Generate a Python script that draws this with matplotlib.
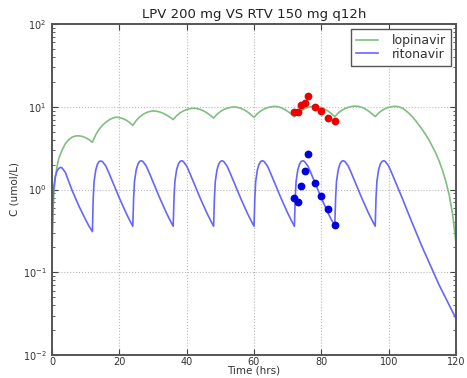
import matplotlib
matplotlib.use('Agg')
import matplotlib.pyplot as plt

# ---------------- data ----------------
title = "LPV 200 mg VS RTV 150 mg q12h"
x_label = "Time (hrs)"
y_label = "C (umol/L)"
x_ticks = [0, 20, 40, 60, 80, 100, 120]

# lopinavir model curve (hours, umol/L)
lpv_t = [0, 0.25, 0.5, 1, 1.5, 2, 3, 4, 5, 6, 7, 8, 9, 10, 11, 12,
         13, 14, 15, 16, 17, 18, 19, 20, 21, 22, 23, 24,
         25, 26, 27, 28, 29, 30, 31, 32, 33, 34, 35, 36,
         37, 38, 39, 40, 41, 42, 43, 44, 45, 46, 47, 48,
         49, 50, 51, 52, 53, 54, 55, 56, 57, 58, 59, 60,
         61, 62, 63, 64, 65, 66, 67, 68, 69, 70, 71, 72,
         73, 74, 75, 76, 77, 78, 79, 80, 81, 82, 83, 84,
         85, 86, 87, 88, 89, 90, 91, 92, 93, 94, 95, 96,
         97, 98, 99, 100, 101, 102, 103, 104, 105, 106, 107, 108,
         109, 110, 111, 112, 113, 114, 115, 116, 117, 118, 119, 120]
lpv_c = [0.16, 0.5, 0.85, 1.4, 1.9, 2.35, 3.0, 3.6, 4.0, 4.3, 4.43, 4.45, 4.38, 4.22, 4.0, 3.72,
         4.59, 5.35, 5.98, 6.5, 6.95, 7.3, 7.47, 7.4, 7.2, 6.9, 6.48, 5.95,
         6.80, 7.51, 8.08, 8.48, 8.76, 8.90, 8.84, 8.65, 8.34, 7.95, 7.49, 7.0,
         7.77, 8.41, 8.90, 9.24, 9.48, 9.60, 9.52, 9.29, 8.92, 8.44, 7.88, 7.3,
         8.09, 8.74, 9.24, 9.58, 9.83, 9.95, 9.86, 9.61, 9.20, 8.69, 8.08, 7.45,
         8.24, 8.89, 9.39, 9.74, 9.98, 10.1, 10.01, 9.75, 9.34, 8.81, 8.19, 7.55,
         8.32, 8.97, 9.46, 9.80, 10.03, 10.15, 10.06, 9.80, 9.39, 8.86, 8.24, 7.6,
         8.38, 9.01, 9.50, 9.85, 10.08, 10.2, 10.11, 9.85, 9.42, 8.88, 8.25, 7.6,
         8.38, 9.01, 9.50, 9.85, 10.05, 10.12, 10.0, 9.6, 9.05, 8.35, 7.6, 6.8,
         6.0, 5.3, 4.6, 3.95, 3.3, 2.75, 2.2, 1.7, 1.25, 0.85, 0.5, 0.225]

# ritonavir model curve (hours, umol/L)
rtv_t = [0, 0.25, 0.5, 1, 1.5, 2, 2.5, 3, 4, 5, 6, 7, 8, 9, 10, 11, 12,
         12.25, 12.5, 13, 13.5, 14, 14.5, 15, 16, 17, 18, 19, 20, 21, 22, 23, 24,
         24.25, 24.5, 25, 25.5, 26, 26.5, 27, 28, 29, 30, 31, 32, 33, 34, 35, 36,
         36.25, 36.5, 37, 37.5, 38, 38.5, 39, 40, 41, 42, 43, 44, 45, 46, 47, 48,
         48.25, 48.5, 49, 49.5, 50, 50.5, 51, 52, 53, 54, 55, 56, 57, 58, 59, 60,
         60.25, 60.5, 61, 61.5, 62, 62.5, 63, 64, 65, 66, 67, 68, 69, 70, 71, 72,
         72.25, 72.5, 73, 73.5, 74, 74.5, 75, 76, 77, 78, 79, 80, 81, 82, 83, 84,
         84.25, 84.5, 85, 85.5, 86, 86.5, 87, 88, 89, 90, 91, 92, 93, 94, 95, 96,
         96.25, 96.5, 97, 97.5, 98, 98.5, 99, 100, 101, 102, 103, 104,
         105, 106, 107, 108, 109, 110, 111, 112, 113, 114, 115, 116, 117, 118, 119, 120]
rtv_c = [0.22, 0.7, 1.05, 1.45, 1.68, 1.8, 1.85, 1.82, 1.6, 1.24, 0.97, 0.78, 0.63, 0.52, 0.43, 0.36, 0.31,
         0.8, 1.25, 1.72, 2.02, 2.18, 2.21, 2.17, 1.92, 1.55, 1.24, 0.99, 0.79, 0.64, 0.52, 0.43, 0.36,
         0.8, 1.25, 1.72, 2.02, 2.18, 2.23, 2.18, 1.92, 1.55, 1.24, 0.99, 0.79, 0.64, 0.52, 0.43, 0.36,
         0.8, 1.25, 1.72, 2.02, 2.18, 2.23, 2.18, 1.92, 1.55, 1.24, 0.99, 0.79, 0.64, 0.52, 0.43, 0.36,
         0.8, 1.25, 1.72, 2.02, 2.18, 2.23, 2.18, 1.92, 1.55, 1.24, 0.99, 0.79, 0.64, 0.52, 0.43, 0.36,
         0.8, 1.25, 1.72, 2.02, 2.18, 2.23, 2.18, 1.92, 1.55, 1.24, 0.99, 0.79, 0.64, 0.52, 0.43, 0.36,
         0.8, 1.25, 1.72, 2.02, 2.18, 2.23, 2.18, 1.92, 1.55, 1.24, 0.99, 0.79, 0.64, 0.52, 0.43, 0.37,
         0.8, 1.25, 1.72, 2.02, 2.18, 2.23, 2.18, 1.92, 1.55, 1.24, 0.99, 0.79, 0.64, 0.52, 0.43, 0.36,
         0.8, 1.25, 1.72, 2.02, 2.18, 2.23, 2.18, 1.92, 1.55, 1.24, 0.99, 0.79,
         0.625, 0.495, 0.393, 0.313, 0.25, 0.2, 0.162, 0.1315, 0.1067, 0.0865, 0.070, 0.058,
         0.0482, 0.040, 0.0332, 0.0275]

# observed concentrations (hours, umol/L)
obs_t = [72, 73, 74, 75, 76, 78, 80, 82, 84]
lpv_obs = [8.57, 8.57, 10.5, 11.2, 13.4, 10.0, 8.9, 7.25, 6.8]
rtv_obs = [0.78, 0.71, 1.1, 1.69, 2.68, 1.2, 0.83, 0.575, 0.37]

# ---------------- plot ----------------
plt.rcParams['font.family'] = ['DejaVu Sans']
fig = plt.figure(figsize=(4.67, 3.78), dpi=100)
ax = fig.add_axes([52 / 467, 23 / 378, 404 / 467, 331 / 378])
ax.set_yscale('log')

ax.plot(lpv_t, lpv_c, color='#80bf80', lw=1.2, label='lopinavir')
ax.plot(rtv_t, rtv_c, color='#6666ff', lw=1.2, label='ritonavir')
ax.plot(obs_t, lpv_obs, 'o', color='#ee0000', mec='#ee0000', ms=4.6)
ax.plot(obs_t, rtv_obs, 'o', color='#0000dd', mec='#0000dd', ms=4.6)

ax.set_xlim(0, 120)
ax.set_ylim(1e-2, 1e2)
ax.set_xticks(x_ticks)
ax.grid(True, which='major', color='#b8b8b8', ls=':', lw=0.8)

ax.tick_params(which='both', direction='in', top=True, right=True,
               labelsize=7, colors='#444444', labelcolor='#333333')
ax.tick_params(which='major', length=4, width=0.8)
ax.tick_params(which='minor', length=2, width=0.6)
ax.tick_params(axis='x', pad=1.5)
ax.tick_params(axis='y', pad=4)
for s in ax.spines.values():
    s.set_color('#555555')
    s.set_linewidth(1.4)

ax.set_title(title, fontsize=9.5, color='#222222', pad=4)
ax.set_xlabel(x_label, fontsize=7.5, color='#333333', labelpad=-1)
ax.set_ylabel(y_label, fontsize=7.5, color='#333333', labelpad=2)

leg = ax.legend(loc='upper right', fontsize=9, fancybox=False, framealpha=1,
                edgecolor='#555555', handlelength=1.8, handletextpad=1.1,
                borderaxespad=0.4, borderpad=0.4, labelspacing=0.05)
leg.get_frame().set_linewidth(1.0)
for t in leg.get_texts():
    t.set_color('#333333')

fig.savefig('out.png', dpi=100)
